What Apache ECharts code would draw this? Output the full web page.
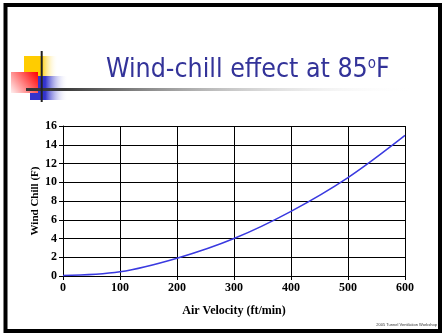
<!DOCTYPE html>
<html>
<head>
<meta charset="utf-8">
<script src="https://cdn.jsdelivr.net/npm/echarts@6/dist/echarts.min.js"></script>
<style>
  html, body { margin: 0; padding: 0; background: #fff; }
  #chart { width: 444px; height: 334px; }
</style>
</head>
<body>
<div id="chart"></div>
<script>
// Air velocity (ft/min) and resulting wind chill (F) at 85 F
const velocity = [0, 100, 200, 300, 400, 500, 600];
const windChill = [0.05, 0.45, 1.9, 4.0, 6.9, 10.5, 15.0];
const xTicks = { min: 0, max: 600, step: 100 };
const yTicks = { min: 0, max: 16, step: 2 };

const titleMain = 'Wind-chill effect at 85';
const titleSup = 'o';
const titleEnd = 'F';
const xTitle = 'Air Velocity (ft/min)';
const yTitle = 'Wind Chill (F)';
const footer = '2005 Tunnel Ventilation Workshop';

const points = velocity.map((v, i) => [v, windChill[i]]);

const chart = echarts.init(document.getElementById('chart'), null, { renderer: 'canvas' });

const serif = '"Liberation Serif", "Times New Roman", serif';
const titleFont = '"DejaVu Sans Condensed", "DejaVu Sans", sans-serif';

chart.setOption({
  backgroundColor: '#ffffff',
  animation: false,
  grid: { left: 63, right: 39, top: 126, bottom: 58, containLabel: false },
  xAxis: {
    type: 'value',
    min: xTicks.min, max: xTicks.max, interval: xTicks.step,
    name: xTitle,
    nameLocation: 'middle',
    nameGap: 29,
    nameMoveOverlap: false,
    nameTextStyle: { fontFamily: serif, fontWeight: 'bold', fontSize: 12, color: '#000', verticalAlign: 'top' },
    axisLine: { show: true, onZero: false, lineStyle: { color: '#000', width: 1 } },
    axisTick: { show: true, length: 4, inside: false, lineStyle: { color: '#000' } },
    axisLabel: { fontFamily: serif, fontWeight: 'bold', fontSize: 12, color: '#000', margin: 6 },
    splitLine: { show: true, lineStyle: { color: '#000', width: 1 } }
  },
  yAxis: {
    type: 'value',
    min: yTicks.min, max: yTicks.max, interval: yTicks.step,
    name: yTitle,
    nameLocation: 'middle',
    nameGap: 22,
    nameMoveOverlap: false,
    nameRotate: 90,
    nameTextStyle: { fontFamily: serif, fontWeight: 'bold', fontSize: 11, color: '#000' },
    axisLine: { show: true, onZero: false, lineStyle: { color: '#000', width: 1 } },
    axisTick: { show: true, length: 4, inside: false, lineStyle: { color: '#000' } },
    axisLabel: { fontFamily: serif, fontWeight: 'bold', fontSize: 12, color: '#000', margin: 6 },
    splitLine: { show: true, lineStyle: { color: '#000', width: 1 } }
  },
  series: [{
    type: 'line',
    data: points,
    smooth: 0.35,
    showSymbol: false,
    symbol: 'none',
    lineStyle: { color: '#3a3ae0', width: 1.5 },
    z: 5
  }],
  graphic: [
    // slide frame
    { type: 'rect', shape: { x: 5.5, y: 5, width: 434.5, height: 326 },
      style: { fill: null, stroke: '#000', lineWidth: 4 }, z: 100 },
    // corner decoration: yellow, blue, red squares
    { type: 'rect', shape: { x: 24, y: 56, width: 34, height: 21 },
      style: { fill: new echarts.graphic.LinearGradient(0, 0, 1, 0, [
        { offset: 0, color: '#ffcc00' }, { offset: 0.5, color: '#ffcc00' }, { offset: 1, color: 'rgba(255,255,255,0)' }]) }, z: 10 },
    { type: 'rect', shape: { x: 30, y: 76, width: 38, height: 24 },
      style: { fill: new echarts.graphic.LinearGradient(0, 0, 1, 0, [
        { offset: 0, color: '#3333cc' }, { offset: 0.4, color: '#3333cc' }, { offset: 1, color: 'rgba(255,255,255,0)' }]) }, z: 11 },
    { type: 'rect', shape: { x: 11, y: 72, width: 27, height: 21 },
      style: { fill: new echarts.graphic.LinearGradient(1, 0, 0, 1, [
        { offset: 0, color: '#ff0000' }, { offset: 0.15, color: '#ff2020' }, { offset: 1, color: 'rgba(255,240,240,1)' }]) }, z: 12 },
    { type: 'line', shape: { x1: 41.7, y1: 51, x2: 41.7, y2: 102 },
      style: { stroke: '#222', lineWidth: 2 }, z: 14 },
    // rule under the title
    { type: 'rect', shape: { x: 26, y: 88, width: 390, height: 3 },
      style: { fill: new echarts.graphic.LinearGradient(0, 0, 1, 0, [
        { offset: 0, color: '#333333' }, { offset: 0.1, color: '#3a3a3a' }, { offset: 1, color: 'rgba(255,255,255,0)' }]) }, z: 13 },
    // title
    { type: 'text', left: 106, top: 57, z: 20,
      style: {
        text: '{m|' + titleMain + '}{s|' + titleSup + '}{m|' + titleEnd + '}',
        rich: {
          m: { fontFamily: titleFont, fontSize: 26.5, fill: '#333399', verticalAlign: 'bottom' },
          s: { fontFamily: titleFont, fontSize: 15, fill: '#333399', verticalAlign: 'top', padding: [0, 0, 9, 0] }
        }
      } },
    // footer
    { type: 'text', right: 7, top: 323, z: 20,
      style: { text: footer, fontFamily: '"Liberation Sans", Arial, sans-serif', fontSize: 4, fill: '#333' } }
  ]
});
</script>
</body>
</html>
